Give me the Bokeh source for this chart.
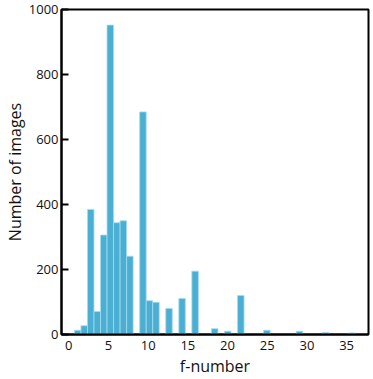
from bokeh.plotting import figure
from bokeh.models import FixedTicker, ColumnDataSource
from bokeh.embed import file_html
from bokeh.resources import INLINE

# ---- data (histogram of f-numbers) ----
bin_start = 0.71
bin_width = 0.822
counts = [13, 27, 385, 71, 306, 952, 344, 350, 241, 0,
          685, 104, 99, 0, 80, 0, 111, 0, 195, 0,
          0, 18, 0, 10, 0, 120, 0, 0, 0, 13,
          0, 0, 0, 0, 10, 0, 0, 0, 6, 0,
          0, 0, 5]
x_ticks = [0, 5, 10, 15, 20, 25, 30, 35]
y_ticks = [0, 200, 400, 600, 800, 1000]
x_title = "f-number"
y_title = "Number of images"

left_edges = [bin_start + i * bin_width for i in range(len(counts))]
right_edges = [l + bin_width for l in left_edges]
src = ColumnDataSource(dict(left=left_edges, right=right_edges, top=counts,
                            bottom=[0] * len(counts)))

FONT = "Open Sans"
TXT = "#111111"

p = figure(width=373, height=379, output_backend="svg", toolbar_location=None,
           title=None,
           x_range=(-0.918, 37.76), y_range=(0, 1000),
           min_border_left=52, min_border_right=5, min_border_top=9,
           min_border_bottom=43)

p.quad(left="left", right="right", top="top", bottom="bottom", source=src,
       fill_color="#4AAFD2", line_color="#A6DCEE", line_width=0.8)

p.xgrid.visible = False
p.ygrid.visible = False
p.outline_line_color = "black"
p.outline_line_width = 2
p.outline_line_alpha = 1

xa = p.xaxis[0]
xa.ticker = FixedTicker(ticks=x_ticks)
xa.axis_line_width = 2
xa.major_tick_line_color = None
xa.major_tick_in = 0
xa.major_tick_out = 0
xa.minor_tick_line_color = None
xa.major_label_standoff = 6
xa.major_label_text_font = FONT
xa.major_label_text_font_size = "13px"
xa.major_label_text_color = TXT
xa.axis_label = x_title
xa.axis_label_standoff = 2
xa.axis_label_text_font = FONT
xa.axis_label_text_font_style = "normal"
xa.axis_label_text_font_size = "16px"
xa.axis_label_text_color = TXT

ya = p.yaxis[0]
ya.ticker = FixedTicker(ticks=y_ticks)
ya.axis_line_width = 2
ya.major_tick_line_width = 2
ya.major_tick_in = 7
ya.major_tick_out = 0
ya.minor_tick_line_color = None
ya.major_label_standoff = 3
ya.major_label_text_font = FONT
ya.major_label_text_font_size = "13px"
ya.major_label_text_color = TXT
ya.axis_label = y_title
ya.axis_label_standoff = 0
ya.axis_label_text_font = FONT
ya.axis_label_text_font_style = "normal"
ya.axis_label_text_font_size = "16px"
ya.axis_label_text_color = TXT

open("out.html", "w").write(file_html(p, INLINE))
